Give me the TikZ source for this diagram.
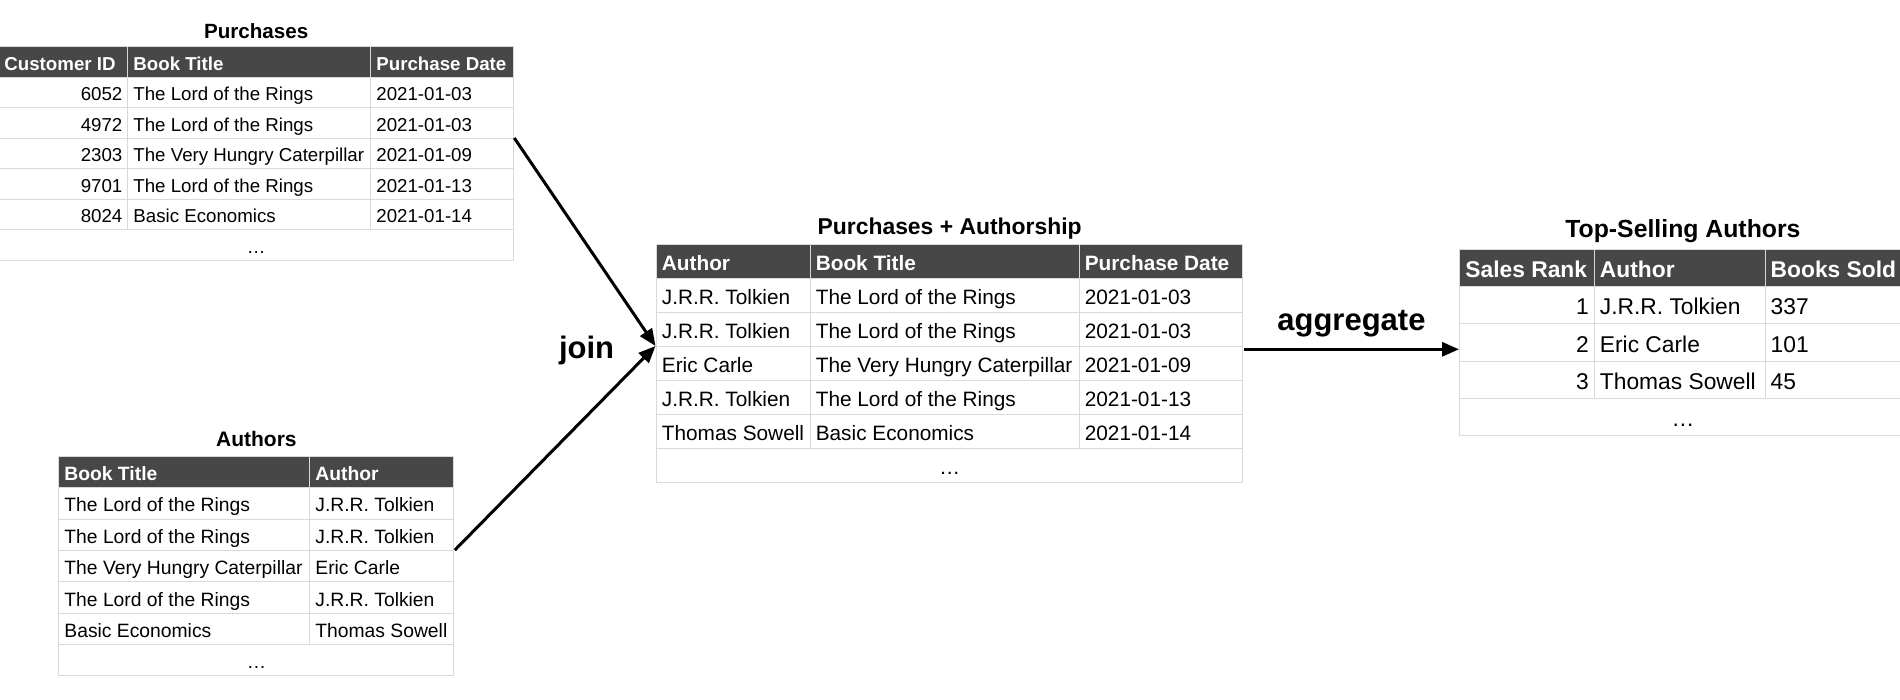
\PassOptionsToPackage{table}{xcolor}
\documentclass[tikz,border=0pt]{standalone}
\usepackage[table]{xcolor}
\usepackage{array}
\usepackage{fontspec}
\setmainfont{Liberation Sans}
\usepackage{tikz}
\usetikzlibrary{arrows.meta, positioning, calc}

\definecolor{hdrgray}{HTML}{474747}
\definecolor{rulegray}{HTML}{D9D9D9}
\newcommand{\hd}[1]{\textcolor{white}{\textbf{#1}}}
\setlength{\tabcolsep}{2.5pt}
\setlength{\arrayrulewidth}{0.5pt}
\setlength{\extrarowheight}{4pt}

\begin{document}
\begin{tikzpicture}[x=0.5pt, y=-0.5pt,
	tbl/.style={inner sep=0pt, anchor=north west},
	ttl/.style={inner sep=0pt, anchor=base},
	lbl/.style={inner sep=0pt, font=\bfseries\fontsize{15.5}{18}\selectfont},
	arr/.style={line width=1.5pt, -{Triangle[length=8.5pt, width=7pt]}}]
	\useasboundingbox (0,0) rectangle (1900,700);

	% source tables
	\node[tbl] (purch) at (-2,46)
	{\fontsize{9.35}{10.75}\selectfont\arrayrulecolor{rulegray}%
		\begin{tabular}{|w{r}{59pt}|w{l}{116pt}|w{l}{65.75pt}|}
		\hline
		\rowcolor{hdrgray}\multicolumn{1}{|l|}{\hd{Customer ID}} & \hd{Book Title} & \hd{Purchase Date} \\ \hline
		6052 & The Lord of the Rings & 2021-01-03 \\ \hline
		4972 & The Lord of the Rings & 2021-01-03 \\ \hline
		2303 & The Very Hungry Caterpillar & 2021-01-09 \\ \hline
		9701 & The Lord of the Rings & 2021-01-13 \\ \hline
		8024 & Basic Economics & 2021-01-14 \\ \hline
		\multicolumn{3}{|c|}{\dots} \\ \hline
		\end{tabular}%
	};
	\node[ttl, above=3.8pt of purch.north, anchor=base, font=\bfseries\fontsize{10.3}{12}\selectfont] (purchttl) {Purchases};

	\node[tbl] (auth) at (58,455.6)
	{\fontsize{9.65}{11.17}\selectfont\arrayrulecolor{rulegray}%
		\begin{tabular}{|w{l}{120pt}|w{l}{66.5pt}|}
		\hline
		\rowcolor{hdrgray}\hd{Book Title} & \hd{Author} \\ \hline
		The Lord of the Rings & J.R.R. Tolkien \\ \hline
		The Lord of the Rings & J.R.R. Tolkien \\ \hline
		The Very Hungry Caterpillar & Eric Carle \\ \hline
		The Lord of the Rings & J.R.R. Tolkien \\ \hline
		Basic Economics & Thomas Sowell \\ \hline
		\multicolumn{2}{|c|}{\dots} \\ \hline
		\end{tabular}%
	};
	\node[ttl, above=4.8pt of auth.north, anchor=base, font=\bfseries\fontsize{10.5}{12}\selectfont] (authttl) {Authors};

	% joined table
	\node[tbl] (joined) at (655.5,243.6)
	{\fontsize{10.4}{12.48}\selectfont\arrayrulecolor{rulegray}%
		\begin{tabular}{|w{l}{71.45pt}|w{l}{129pt}|w{l}{76.3pt}|}
		\hline
		\rowcolor{hdrgray}\hd{Author} & \hd{Book Title} & \hd{Purchase Date} \\ \hline
		J.R.R. Tolkien & The Lord of the Rings & 2021-01-03 \\ \hline
		J.R.R. Tolkien & The Lord of the Rings & 2021-01-03 \\ \hline
		Eric Carle & The Very Hungry Caterpillar & 2021-01-09 \\ \hline
		J.R.R. Tolkien & The Lord of the Rings & 2021-01-13 \\ \hline
		Thomas Sowell & Basic Economics & 2021-01-14 \\ \hline
		\multicolumn{3}{|c|}{\dots} \\ \hline
		\end{tabular}%
	};
	\node[ttl, above=4.4pt of joined.north, anchor=base, font=\bfseries\fontsize{11.45}{14}\selectfont] (joinedttl) {Purchases + Authorship};

	% result table
	\node[tbl] (top) at (1459,248.3)
	{\fontsize{11.4}{14.14}\selectfont\arrayrulecolor{rulegray}%
		\begin{tabular}{|w{r}{61.75pt}|w{l}{79.9pt}|w{l}{64.85pt}|}
		\hline
		\rowcolor{hdrgray}\multicolumn{1}{|l|}{\hd{Sales Rank}} & \hd{Author} & \hd{Books Sold} \\ \hline
		1 & J.R.R. Tolkien & 337 \\ \hline
		2 & Eric Carle & 101 \\ \hline
		3 & Thomas Sowell & 45 \\ \hline
		\multicolumn{3}{|c|}{\dots} \\ \hline
		\end{tabular}%
	};
	\node[ttl, above=5.5pt of top.north, anchor=base, font=\bfseries\fontsize{12.4}{15}\selectfont] (topttl) {Top-Selling Authors};

	% connectors
	\coordinate (purchout) at ($(purch.north east)+(0,92)$);
	\coordinate (authout) at ($(auth.north east)+(0,94.5)$);
	\coordinate (joinin) at ($(joined.north west)+(0,102.4)$);
	\coordinate (aggin) at ($(top.north west)+(0,101)$);

	\draw[arr] (purchout) -- (joinin);
	\draw[arr] (authout) -- (joinin);
	\node[lbl, anchor=base east] (joinlbl) at ($(joinin)+(-41,12)$) {join};

	\draw[arr] (aggin -| joined.east) -- node[lbl, above=5.5pt] (agglbl) {aggregate} (aggin);
\end{tikzpicture}
\end{document}
